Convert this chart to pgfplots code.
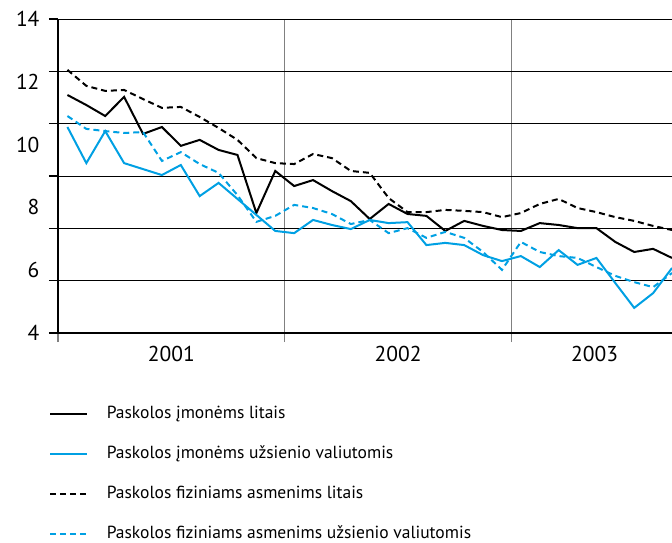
\documentclass[border=0pt]{standalone}
\usepackage{pgfplots}
\usepackage{pgfplotstable}
\pgfplotsset{compat=1.18}
\usepackage{fontspec}
\setmainfont{PT Sans}

\definecolor{lblue}{RGB}{0,160,227}

% x = month index (mid-month), 2001-01 .. 2003-09
\pgfplotstableread{
x     a      b     c      d
0.5   11.58  10.56 12.38  10.91
1.5   11.26  9.41  11.87  10.50
2.5   10.91  10.43 11.71  10.43
3.5   11.52  9.41  11.74  10.37
4.5   10.34  9.22  11.45  10.40
5.5   10.56  9.03  11.17  9.48
6.5   9.96   9.35  11.20  9.76
7.5   10.15  8.36  10.88  9.38
8.5   9.83   8.78  10.53  9.10
9.5   9.67   8.27  10.15  8.39
10.5  7.82   7.76  9.57   7.54
11.5  9.16   7.25  9.41   7.73
12.5  8.68   7.18  9.38   8.08
13.5  8.87   7.60  9.70   7.98
14.5  8.52   7.44  9.57   7.79
15.5  8.20   7.31  9.16   7.47
16.5  7.63   7.60  9.10   7.60
17.5  8.11   7.50  8.30   7.18
18.5  7.79   7.53  7.85   7.34
19.5  7.73   6.80  7.85   7.03
20.5  7.25   6.87  7.92   7.22
21.5  7.57   6.80  7.89   7.03
22.5  7.41   6.48  7.85   6.58
23.5  7.28   6.29  7.69   6.01
24.5  7.25   6.45  7.82   6.90
25.5  7.50   6.10  8.11   6.58
26.5  7.44   6.64  8.27   6.45
27.5  7.34   6.17  7.98   6.39
28.5  7.34   6.39  7.85   6.10
29.5  6.90   5.59  7.69   5.82
30.5  6.58   4.80  7.57   5.62
31.5  6.68   5.27  7.41   5.46
32.5  6.39   6.07  7.28   5.91
}\rates

\begin{document}
\begin{tikzpicture}
\begin{axis}[
    scale only axis,
    width=614pt, height=314pt,
    xmin=0, xmax=32.5,
    ymin=4, ymax=14,
    axis lines*=left,
    axis line style={line width=1.2pt},
    tick align=outside,
    major tick length=9pt,
    tick style={black, line width=1.2pt},
    xtick style={gray},
    xtick={0,12,24},
    xticklabels={},
    ytick={4,5.6667,7.3333,9,10.6667,12.3333,14},
    yticklabels={},
    xmajorgrids, ymajorgrids,
    x grid style={gray, line width=1.2pt},
    y grid style={black, line width=0.9pt},
    extra x ticks={6,18,28.4},
    extra x tick labels={2001,2002,2003},
    extra x tick style={grid=none, major tick length=0pt,
        xticklabel style={yshift=-10pt}},
    extra y ticks={4,6,8,10,12,14},
    extra y tick labels={4,6,8,10,12,14},
    extra y tick style={grid=none, major tick length=0pt,
        yticklabel style={xshift=-15pt}},
    ticklabel style={font=\fontsize{21.5}{23}\selectfont},
    /pgf/number format/assume math mode=true,
    legend image code/.code={%
        \draw[#1, line width=2.6pt] (0pt,0pt) -- (37pt,0pt);},
    legend cell align=left,
    legend style={draw=none, fill=none, inner sep=0pt,
        at={(axis description cs:-0.0147,-0.232)}, anchor=north west,
        font=\fontsize{17.5}{19}\selectfont,
        row sep=24pt,
        nodes={inner sep=0pt, text height=12.5pt, text depth=3.5pt},
        /tikz/every odd column/.append style={column sep=18pt}},
]
\addplot[black, line width=2pt] table[x=x, y=a] {\rates};
\addlegendentry{Paskolos įmonėms litais}
\addplot[lblue, line width=2pt] table[x=x, y=b] {\rates};
\addlegendentry{Paskolos įmonėms užsienio valiutomis}
\addplot[black, line width=2pt, dash pattern=on 6pt off 4pt] table[x=x, y=c] {\rates};
\addlegendentry{Paskolos fiziniams asmenims litais}
\addplot[lblue, line width=2pt, dash pattern=on 6pt off 4pt] table[x=x, y=d] {\rates};
\addlegendentry{Paskolos fiziniams asmenims užsienio valiutomis}
\coordinate (BL) at (rel axis cs:0,0);
\coordinate (TR) at (rel axis cs:1,1);
\end{axis}
\pgfresetboundingbox
\path ([xshift=-58pt,yshift=-210pt]BL) rectangle ([yshift=19pt]TR);
\end{tikzpicture}
\end{document}
